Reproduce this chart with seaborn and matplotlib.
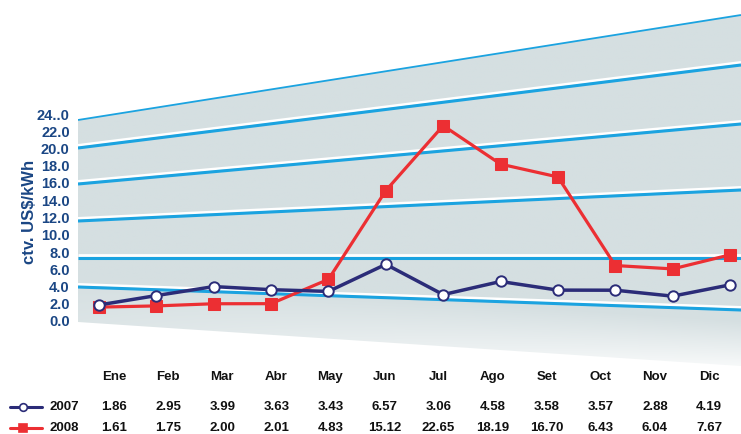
import numpy as np
import pandas as pd
import matplotlib
matplotlib.use("Agg")
import matplotlib.pyplot as plt
from matplotlib.lines import Line2D
from matplotlib.patches import Polygon
import seaborn as sns

# ---------------- data ----------------
months = ["Ene", "Feb", "Mar", "Abr", "May", "Jun", "Jul", "Ago", "Set", "Oct", "Nov", "Dic"]
vals_2007 = [1.86, 2.95, 3.99, 3.63, 3.43, 6.57, 3.06, 4.58, 3.58, 3.57, 2.88, 4.19]
vals_2008 = [1.61, 1.75, 2.00, 2.01, 4.83, 15.12, 22.65, 18.19, 16.70, 6.43, 6.04, 7.67]
series_names = ["2007", "2008"]
yticks = [0, 2, 4, 6, 8, 10, 12, 14, 16, 18, 20, 22, 24]
ytick_labels = ["0.0", "2.0", "4.0", "6.0", "8.0", "10.0", "12.0", "14.0",
                "16.0", "18.0", "20.0", "22.0", "24..0"]
ylabel = "ctv. US$/kWh"

# ---------------- style ----------------
sns.set_style("white")
plt.rcParams["font.family"] = ["Liberation Sans", "DejaVu Sans"]
plt.rcParams["font.weight"] = "bold"

W, H = 741, 434
fig = plt.figure(figsize=(W / 100, H / 100), dpi=100)

AX_L, AX_R, AX_T, AX_B = 78, 741, 0, 370
ax = fig.add_axes([AX_L / W, (H - AX_B) / H, (AX_R - AX_L) / W, (AX_B - AX_T) / H])

# axis scales (pixel -> data calibration)
x0_px, x11_px = 99, 730
px_per_month = (x11_px - x0_px) / 11
ax.set_xlim(-(x0_px - AX_L) / px_per_month, 11 + (AX_R - x11_px) / px_per_month)
y0_px, px_per_unit = 321, (321 - 114) / 24
ax.set_ylim((y0_px - AX_B) / px_per_unit, (y0_px - AX_T) / px_per_unit)


def fr(px, py):
    """pixel -> axes fraction"""
    return ((px - AX_L) / (AX_R - AX_L), (AX_B - py) / (AX_B - AX_T))


# ---------------- perspective background ----------------
gray = np.array([0xd5, 0xdf, 0xe1]) / 255
top_l, top_r = 120, 15
bot_l, bot_r = 322, 366
poly_pts = [fr(AX_L, top_l), fr(AX_R, top_r), fr(AX_R, bot_r), fr(AX_L, bot_l)]
poly = Polygon(poly_pts, closed=True, transform=ax.transAxes, facecolor="none", edgecolor="none")
ax.add_patch(poly)

nx, ny = 300, 200
u = np.linspace(0, 1, nx)
v = np.linspace(1, 0, ny)
U, V = np.meshgrid(u, v)
py = AX_B - V * (AX_B - AX_T)
yb = bot_l + (bot_r - bot_l) * U
d = yb - py
light = np.clip(1 - d / 45, 0, 1) * (0.2 + 0.8 * U) * 0.8
img = gray[None, None, :] * (1 - light[..., None]) + light[..., None] * 1.0
im = ax.imshow(img, extent=[0, 1, 0, 1], transform=ax.transAxes, aspect="auto",
               zorder=0, interpolation="bilinear")
im.set_clip_path(poly)

blue = "#1ba3e0"
# top edge line
ax.plot(*zip(fr(AX_L, top_l), fr(AX_R, top_r)), transform=ax.transAxes,
        color=blue, lw=1.3, zorder=1, solid_capstyle="butt")
left_ys = [148, 184, 221, 258, 287]
right_ys = [65, 124, 190, 258, 310]
for yl, yr in zip(left_ys, right_ys):
    ax.plot(*zip(fr(AX_L, yl - 2.6), fr(AX_R, yr - 2.6)), transform=ax.transAxes,
            color="white", lw=2.0, zorder=1, solid_capstyle="butt")
    ax.plot(*zip(fr(AX_L, yl), fr(AX_R, yr)), transform=ax.transAxes,
            color=blue, lw=2.2, zorder=1, solid_capstyle="butt")

# ---------------- data lines ----------------
navy = "#2b2c78"
red = "#ec2f33"
xs = np.arange(len(months))
df = pd.DataFrame({"x": np.concatenate([xs, xs]),
                   "y": vals_2007 + vals_2008,
                   "serie": [series_names[0]] * 12 + [series_names[1]] * 12})

sns.lineplot(data=df[df.serie == "2008"], x="x", y="y", ax=ax, color=red, lw=2.3,
             marker="s", markersize=8, markerfacecolor=red, markeredgecolor=red,
             legend=False, zorder=3)
sns.lineplot(data=df[df.serie == "2007"], x="x", y="y", ax=ax, color=navy, lw=2.5,
             marker="o", markersize=7.5, markerfacecolor="white", markeredgecolor=navy,
             markeredgewidth=1.4, legend=False, zorder=4)

# ---------------- axes cosmetics ----------------
for s in ax.spines.values():
    s.set_visible(False)
ax.set_xticks([])
ax.set_xlabel("")
ax.set_ylabel("")
tick_col = "#1a4684"
ax.set_yticks(yticks, ytick_labels)
ax.tick_params(axis="y", length=0, pad=6, labelsize=10.5, labelcolor=tick_col)
for t in ax.get_yticklabels():
    t.set_fontweight("bold")

fig.text(29 / W, 1 - 212 / H, ylabel, rotation=90, ha="center", va="center",
         fontsize=12, fontweight="bold", color=tick_col)

# ---------------- data table ----------------
col_x = np.linspace(114, 709, 12)
txt_col = "#111111"
fs = 9.5
for cx, m, a, b in zip(col_x, months, vals_2007, vals_2008):
    fig.text(cx / W, 1 - 377 / H, m, ha="center", va="center", fontsize=fs,
             fontweight="bold", color=txt_col)
    fig.text(cx / W, 1 - 407 / H, f"{a:.2f}", ha="center", va="center", fontsize=fs,
             fontweight="bold", color=txt_col)
    fig.text(cx / W, 1 - 428 / H, f"{b:.2f}", ha="center", va="center", fontsize=fs,
             fontweight="bold", color=txt_col)

for row_y, name, col, mk, mfc in [(407, series_names[0], navy, "o", "white"),
                                  (428, series_names[1], red, "s", red)]:
    yy = 1 - row_y / H
    fig.add_artist(Line2D([10 / W, 42 / W], [yy, yy], transform=fig.transFigure,
                          color=col, lw=2.2))
    fig.add_artist(Line2D([23 / W], [yy], transform=fig.transFigure, marker=mk,
                          markersize=5.5, markerfacecolor=mfc, markeredgecolor=col,
                          markeredgewidth=1.2, linestyle="none"))
    fig.text(50 / W, yy, name, ha="left", va="center", fontsize=fs,
             fontweight="bold", color=txt_col)

fig.savefig("out.png", dpi=100)
